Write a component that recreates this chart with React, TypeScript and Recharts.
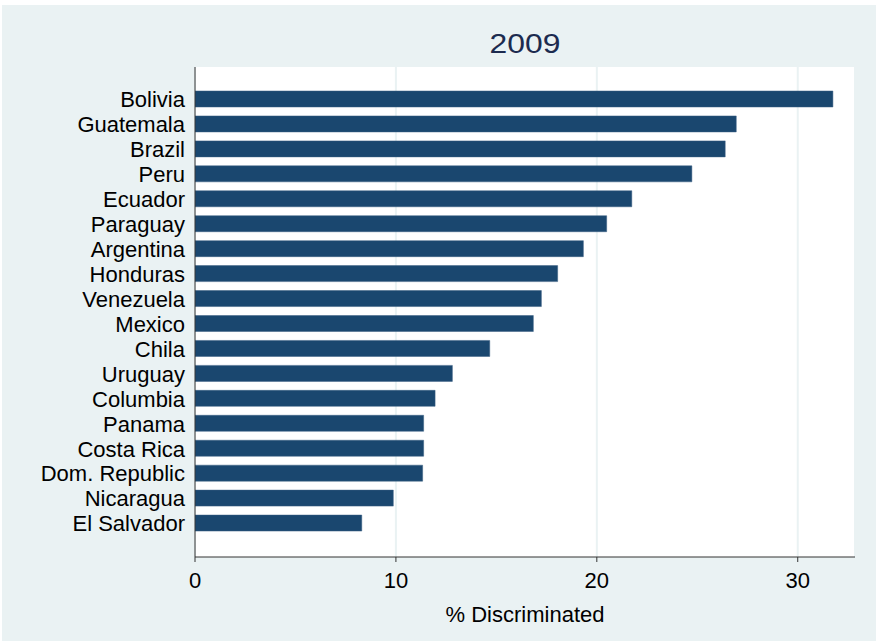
import { Bar, BarChart, CartesianGrid, XAxis, YAxis } from 'recharts';

const countries = [
  'Bolivia', 'Guatemala', 'Brazil', 'Peru', 'Ecuador', 'Paraguay', 'Argentina', 'Honduras', 'Venezuela',
  'Mexico', 'Chila', 'Uruguay', 'Columbia', 'Panama', 'Costa Rica', 'Dom. Republic', 'Nicaragua', 'El Salvador',
];
const discriminated = [
  31.75, 26.94, 26.39, 24.73, 21.74, 20.49, 19.33, 18.05, 17.24,
  16.84, 14.67, 12.81, 11.95, 11.38, 11.38, 11.33, 9.87, 8.3,
];
const xTicks = [0, 10, 20, 30];

const data = countries.map((name, i) => ({ name, value: discriminated[i] }));

const font = '"Liberation Sans", Arial, sans-serif';

export default function App() {
  return (
    <div style={{ position: 'fixed', left: 0, top: 0, width: 876, height: 641, background: '#fff', fontFamily: font }}>
      <div style={{ position: 'absolute', left: 2, top: 5, right: 0, bottom: 0, background: '#eaf2f3' }} />
      <div
        style={{
          position: 'absolute', left: 425, width: 200, top: 29, textAlign: 'center',
          fontSize: 27, lineHeight: '30px', color: '#1c2b4f', transform: 'scaleX(1.18)',
        }}
      >
        2009
      </div>
      <div style={{ position: 'absolute', left: 0, top: 0 }}>
        <BarChart width={876} height={641} data={data} layout="vertical" margin={{ top: 67, right: 21, bottom: 0, left: 0 }}>
          <CartesianGrid horizontal={false} fill="#fff" stroke="#eaf2f3" strokeWidth={2} />
          <XAxis
            type="number"
            domain={[0, 32.85]}
            ticks={xTicks}
            allowDataOverflow
            height={84}
            tickSize={5}
            tickMargin={10}
            stroke="#333"
            tick={{ fill: '#000', fontSize: 22, fontFamily: font }}
            label={{ value: '% Discriminated', position: 'insideBottom', offset: 19, fill: '#000', fontSize: 22, fontFamily: font }}
          />
          <YAxis
            type="category"
            dataKey="name"
            width={195}
            tickLine={false}
            tickSize={0}
            tickMargin={10}
            interval={0}
            padding={{ top: 20, bottom: 21 }}
            stroke="#333"
            tick={{ fill: '#000', fontSize: 22, fontFamily: font }}
          />
          <Bar dataKey="value" fill="#1a476f" stroke="#3b5f82" strokeWidth={0.5} barSize={16} isAnimationActive={false} />
        </BarChart>
      </div>
    </div>
  );
}
